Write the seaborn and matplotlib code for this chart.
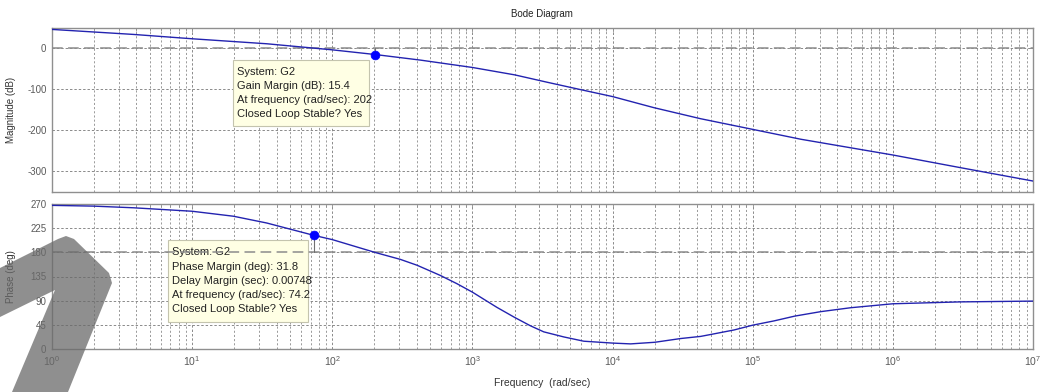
import matplotlib
matplotlib.use("Agg")
import numpy as np
import pandas as pd
import matplotlib.pyplot as plt
import seaborn as sns
from matplotlib.patches import Polygon, Rectangle
from matplotlib.ticker import FixedLocator, NullFormatter

# ---- open-loop frequency response of G2 ----
mag_freq = [1, 3.81, 10, 34.1, 100, 202, 425, 1000, 2000, 3412, 5905, 1e4,
            1.97e4, 4.25e4, 1e5, 2.2e5, 1e6, 3.06e6, 1e7]
mag_db = [45.8, 33.6, 23.0, 10.8, -4.0, -15.4, -29.0, -47.0, -65.0, -83.0,
          -101.0, -118.0, -145.0, -172.0, -198.0, -222.0, -260.5, -291.6,
          -324.0]

phase_freq = [1, 1.97, 3.81, 10, 19.7, 34.1, 74.2, 100, 202, 306, 403, 590,
              776, 1000, 1493, 2000, 2595, 3228, 4487, 6234, 1e4, 1.345e4,
              2e4, 3.06e4, 4.25e4, 5e4, 7.35e4, 1e5, 1.42e5, 2e5, 3.06e5,
              5e5, 1e6, 3e6, 1e7]
phase_deg = [268.0, 266.6, 263.5, 257.0, 247.7, 235.0, 211.8, 204.0, 180.0,
             167.0, 156.0, 137.0, 121.5, 105.7, 77.4, 58.5, 42.8, 31.5, 22.0,
             14.0, 10.5, 9.0, 12.0, 19.0, 23.0, 26.5, 35.0, 44.0, 52.0, 61.0,
             69.3, 76.6, 84.0, 87.5, 89.0]

# stability margins
gm_freq, gain_margin = 202, 15.4
pm_freq, phase_margin = 74.2, 31.8
delay_margin = 0.00748

mag_ticks = [0, -100, -200, -300]
phase_ticks = [0, 45, 90, 135, 180, 225, 270]
decades = list(range(0, 8))

sns.set_theme(style="white")
plt.rcParams["font.family"] = ["Liberation Sans", "DejaVu Sans"]
plt.rcParams["mathtext.fontset"] = "custom"
plt.rcParams["mathtext.rm"] = "Liberation Sans"
plt.rcParams["mathtext.default"] = "regular"

W, H = 1041, 392
fig = plt.figure(figsize=(W / 100, H / 100), dpi=100)
fig.patch.set_facecolor("white")

ax_mag = fig.add_axes([52 / W, 1 - 191.7 / H, 981 / W, 164 / H])
ax_ph = fig.add_axes([52 / W, 1 - 348.7 / H, 981 / W, 144.4 / H])

line_col = "#2323b0"
grid_col = "#8a8a8a"
ref_col = "#8c8c8c"
tick_col = "#5a5a5a"

mag_df = pd.DataFrame({"freq": mag_freq, "mag": mag_db})
ph_df = pd.DataFrame({"freq": phase_freq, "phase": phase_deg})

for ax in (ax_mag, ax_ph):
    ax.set_xscale("log")
    ax.set_xlim(1, 1e7)
    ax.set_facecolor("white")
    for s in ax.spines.values():
        s.set_color("#8f8f8f")
        s.set_linewidth(1.0)
    ax.xaxis.set_major_locator(FixedLocator([10.0 ** k for k in decades]))
    minor = [m * 10.0 ** k for k in decades[:-1] for m in range(2, 10)]
    ax.xaxis.set_minor_locator(FixedLocator(minor))
    ax.xaxis.set_minor_formatter(NullFormatter())
    ax.grid(True, which="major", axis="both", color=grid_col,
            linestyle=(0, (2.5, 2.0)), linewidth=0.7)
    ax.grid(True, which="minor", axis="x", color=grid_col,
            linestyle=(0, (2.5, 2.5)), linewidth=0.6)
    ax.tick_params(which="both", direction="in", top=True, right=True,
                   color="#8f8f8f", labelcolor=tick_col, labelsize=7,
                   width=0.6, pad=4)
    ax.tick_params(which="major", length=3)
    ax.tick_params(which="minor", length=2)
    ax.set_axisbelow(True)

# magnitude
sns.lineplot(data=mag_df, x="freq", y="mag", ax=ax_mag, color=line_col,
             lw=1.0, estimator=None, sort=False, zorder=4)
ax_mag.set_ylim(-350, 50)
ax_mag.yaxis.set_major_locator(FixedLocator(mag_ticks))
ax_mag.set_yticklabels([str(t) for t in mag_ticks])
ax_mag.set_xticklabels([])
ax_mag.set_xlabel("")
ax_mag.set_ylabel("Magnitude (dB)", fontsize=7, color="#333333")
ax_mag.yaxis.set_label_coords(-36 / 981, 0.5)
ax_mag.axhline(0, color=ref_col, lw=1.1, linestyle=(0, (7, 3.5)), zorder=3)
ax_mag.plot([gm_freq, gm_freq], [-gain_margin, 0], color="#707070", lw=0.8,
            zorder=3)
sns.scatterplot(x=[gm_freq], y=[-gain_margin], ax=ax_mag, color="#0000ff",
                s=40, edgecolor="#0000ff", zorder=6, legend=False)

# phase
sns.lineplot(data=ph_df, x="freq", y="phase", ax=ax_ph, color=line_col,
             lw=1.0, estimator=None, sort=False, zorder=4)
ax_ph.set_ylim(0, 270)
ax_ph.yaxis.set_major_locator(FixedLocator(phase_ticks))
ax_ph.set_yticklabels([str(t) for t in phase_ticks])
ax_ph.set_xticklabels([f"10$^{{{k}}}$" for k in decades])
ax_ph.tick_params(axis="x", labelsize=7.5)
ax_ph.set_xlabel("")
ax_ph.set_ylabel("Phase (deg)", fontsize=7, color="#333333")
ax_ph.yaxis.set_label_coords(-36 / 981, 0.5)
ax_ph.axhline(180, color=ref_col, lw=1.1, linestyle=(0, (7, 3.5)), zorder=3)
ax_ph.plot([pm_freq, pm_freq], [180, 180 + phase_margin], color="#707070",
           lw=0.8, zorder=3)
sns.scatterplot(x=[pm_freq], y=[180 + phase_margin], ax=ax_ph,
                color="#0000ff", s=40, edgecolor="#0000ff", zorder=6,
                legend=False)


def datatip(ax, box_px, text_x, line_y, lines):
    x0, y0, x1, y1 = box_px
    rect = Rectangle((x0 / W, 1 - y1 / H), (x1 - x0) / W, (y1 - y0) / H,
                     transform=fig.transFigure, facecolor="#ffffe4",
                     edgecolor="#c4c4ae", lw=0.8, zorder=2, clip_on=False)
    ax.add_patch(rect)
    for i, t in enumerate(lines):
        ax.text(text_x / W, 1 - (line_y[0] + i * (line_y[1])) / H, t,
                transform=fig.transFigure, fontsize=8, color="#222222",
                va="center", ha="left", zorder=2.5, clip_on=False)


datatip(ax_mag, (233, 60, 369, 126), 237, (71.7, 14.1),
        ["System: G2",
         f"Gain Margin (dB): {gain_margin}",
         f"At frequency (rad/sec): {gm_freq}",
         "Closed Loop Stable? Yes"])
datatip(ax_ph, (168, 240, 308, 322), 172.5, (252.3, 14.2),
        ["System: G2",
         f"Phase Margin (deg): {phase_margin}",
         f"Delay Margin (sec): {delay_margin}",
         f"At frequency (rad/sec): {pm_freq}",
         "Closed Loop Stable? Yes"])

fig.text(542 / W, 1 - 14 / H, "Bode Diagram", ha="center", va="center",
         fontsize=7, color="#222222")
fig.text(542 / W, 1 - 383 / H, "Frequency  (rad/sec)", ha="center",
         va="center", fontsize=7.5, color="#333333")

# grey arrow mark in the lower-left corner
arrow_px = [(0, 268), (58, 239), (66, 236), (74, 239), (109, 273),
            (112, 283), (68, 392), (12, 392), (55, 290), (0, 317)]
fig.add_artist(Polygon([(x / W, 1 - y / H) for x, y in arrow_px],
                       closed=True, transform=fig.transFigure,
                       facecolor="#6a6a6a", edgecolor="none", alpha=0.75,
                       zorder=10))

fig.savefig("out.png", dpi=100, facecolor="white")
